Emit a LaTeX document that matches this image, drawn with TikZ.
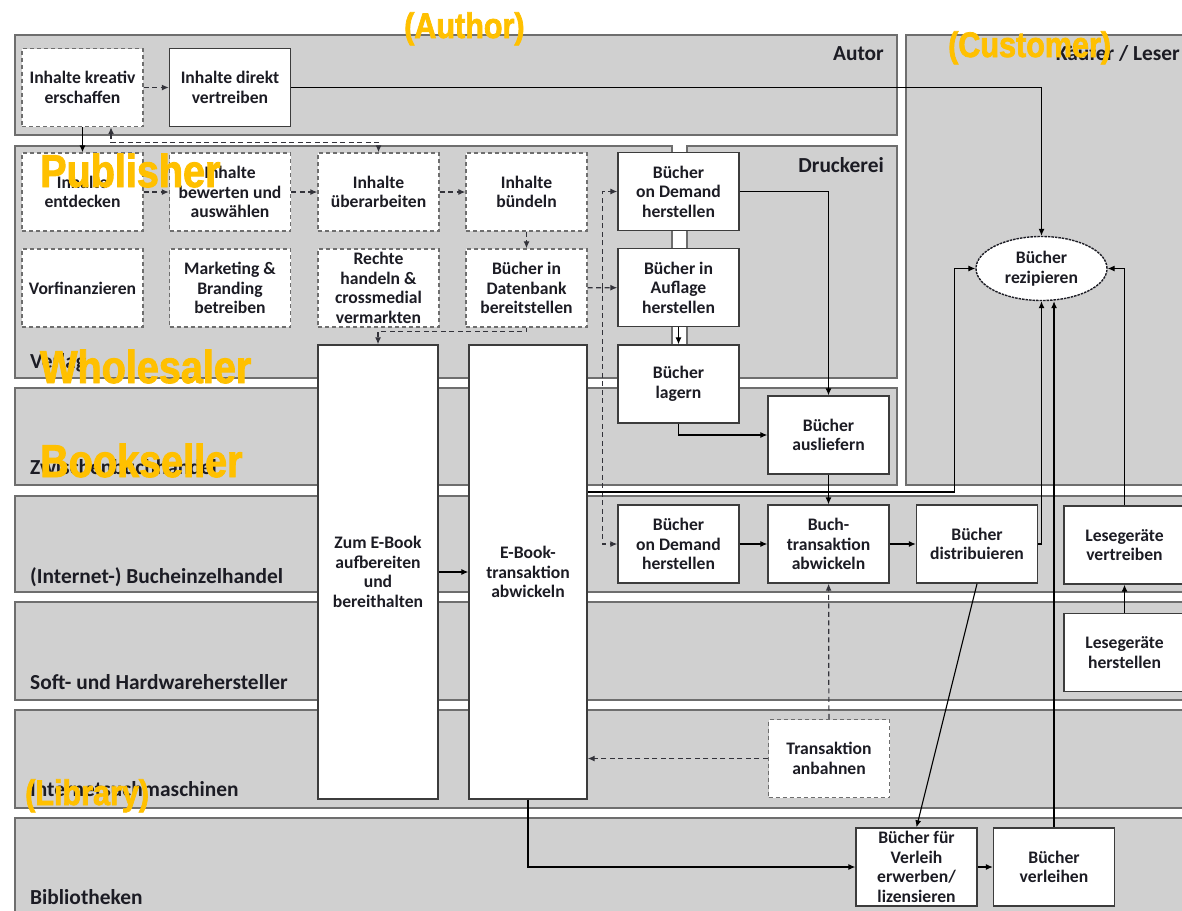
\documentclass[tikz,border=0pt]{standalone}
\usepackage{fontspec}
\setmainfont{Carlito}
\newfontfamily\rolefont[FakeStretch=0.86, FakeBold=2]{Liberation Sans Bold}
\usetikzlibrary{arrows.meta}
\usetikzlibrary{shapes.geometric}
\usetikzlibrary{calc}
\definecolor{lanefill}{HTML}{D0D0D0}
\definecolor{laneline}{HTML}{6E6E6E}
\definecolor{boxline}{HTML}{3C3C3C}
\definecolor{ink}{HTML}{1C1C24}
\definecolor{rolecolor}{HTML}{FFC000}
\newcommand{\lane}[4] % left, top, right, bottom (px)
{
	\draw[lane] (#1,#2) rectangle (#3,#4);
}
\newcommand{\lanelabel}[5] % name, x, baseline, anchor, text
{
	\node[lanetext, anchor=#4] (#1) at (#2,#3) {#5};
}
\newcommand{\roletag}[5] % name, x, baseline, size (px), text
{
	\node[roletext, font=\rolefont\fontsize{#4}{#4}\selectfont] (#1) at (#2,#3) {#5};
}

\begin{document}
\begin{tikzpicture}[x=1pt, y=-1pt, >={Latex[length=7pt, width=6pt]},
	lane/.style={fill=lanefill, draw=laneline, line width=2.5},
	lanetext/.style={inner sep=0, text=ink, font=\bfseries\fontsize{21.4}{23}\selectfont},
	box/.style={draw=boxline, fill=white, line width=1.4, minimum width=121, minimum height=78, inner sep=0, align=center, text=ink, font=\bfseries\fontsize{17.6}{19.5}\selectfont},
	ideabox/.style={box, draw=laneline, dash pattern=on 4pt off 3pt},
	readnode/.style={box, ellipse, draw=ink, dash pattern=on 2.5pt off 1pt, minimum width=131, minimum height=64},
	flow/.style={->, draw=black, line width=1.1},
	idea/.style={->, draw=ink!90, line width=1.2, dash pattern=on 5pt off 3.5pt},
	roletext/.style={anchor=base west, inner sep=0, text=rolecolor}]
	\useasboundingbox[fill=white] (0,0) rectangle (1182,910);

	% swim lanes
	\lane{15}{35}{897}{135}     % Autor
	\lane{906}{35}{1200}{485}   % Kaeufer / Leser
	\lane{15}{146}{672}{378}    % Verlag
	\lane{687}{146}{897}{378}   % Druckerei
	\lane{15}{388}{897}{485}    % Zwischenbuchhandel
	\lane{15}{496}{1200}{592}   % Bucheinzelhandel
	\lane{15}{602}{1200}{700}   % Soft- und Hardware
	\lane{15}{710}{1200}{808}   % Suchmaschinen
	\lane{15}{818}{1200}{925}   % Bibliotheken

	\lanelabel{lautor}{884}{60}{base east}{Autor}
	\lanelabel{lleser}{1180}{60}{base east}{Käufer / Leser}
	\lanelabel{ldruck}{884}{172}{base east}{Druckerei}
	\lanelabel{lverlag}{30}{368}{base west}{Verlag}
	\lanelabel{lzwischen}{30}{474}{base west}{Zwischenbuchhandel}
	\lanelabel{lhandel}{30}{583}{base west}{(Internet-) Bucheinzelhandel}
	\lanelabel{lsoft}{30}{689}{base west}{Soft- und Hardwarehersteller}
	\lanelabel{lsuche}{30}{796}{base west}{Internetsuchmaschinen}
	\lanelabel{lbib}{30}{904}{base west}{Bibliotheken}

	% Autor
	\node[ideabox] (kreativ) at (82.5,87.5) {Inhalte kreativ\\erschaffen};
	\node[box] (direkt) at (230,87.5) {Inhalte direkt\\vertreiben};
	% Verlag
	\node[ideabox] (entdecken) at (82.5,192) {Inhalte\\entdecken};
	\node[ideabox] (bewerten) at (230,192) {Inhalte\\bewerten und\\auswählen};
	\node[ideabox] (ueberarbeiten) at (378.5,192) {Inhalte\\überarbeiten};
	\node[ideabox] (buendeln) at (526.5,192) {Inhalte\\bündeln};
	\node[ideabox] (vorfinanzieren) at (82.5,288) {Vorfinanzieren};
	\node[ideabox] (marketing) at (230,288) {Marketing \&\\Branding\\betreiben};
	\node[ideabox] (rechte) at (378.5,288) {Rechte\\handeln \&\\crossmedial\\vermarkten};
	\node[ideabox] (datenbank) at (526.5,288) {Bücher in\\Datenbank\\bereitstellen};
	\node[box, minimum width=120, minimum height=454] (aufbereiten) at (378,572) {Zum E-Book\\aufbereiten\\und\\bereithalten};
	\node[box, minimum width=118, minimum height=454] (ebook) at (528,572) {E-Book-\\transaktion\\abwickeln};
	% Druckerei / Zwischenbuchhandel
	\node[box] (demanddruck) at (678.5,191.5) {Bücher\\on Demand\\herstellen};
	\node[box] (auflage) at (678.5,287.5) {Bücher in\\Auflage\\herstellen};
	\node[box] (lagern) at (678.5,384) {Bücher\\lagern};
	\node[box] (ausliefern) at (828.5,435) {Bücher\\ausliefern};
	% Bucheinzelhandel
	\node[box] (demandhandel) at (678.5,544) {Bücher\\on Demand\\herstellen};
	\node[box] (buchtrans) at (828.5,544) {Buch-\\transaktion\\abwickeln};
	\node[box] (distribuieren) at (977,544) {Bücher\\distribuieren};
	\node[box] (lesevertrieb) at (1124.5,545) {Lesegeräte\\vertreiben};
	% Hardware, Suchmaschinen, Bibliotheken
	\node[box] (leseherstellung) at (1124.5,652.5) {Lesegeräte\\herstellen};
	\node[ideabox] (anbahnen) at (829,758.5) {Transaktion\\anbahnen};
	\node[box] (erwerben) at (916.5,867) {Bücher für\\Verleih\\erwerben/\\lizensieren};
	\node[box] (verleihen) at (1054,867) {Bücher\\verleihen};
	% Leser
	\node[readnode] (rezipieren) at (1041.5,268.5) {Bücher\\rezipieren};

	% connectors
	\draw[idea] (kreativ) -- (direkt);
	\draw[flow] (direkt.east) -| (rezipieren.north);
	\draw[flow] (kreativ.south) -- (entdecken.north);
	\draw[idea, <->] ([xshift=28.5pt]kreativ.south) -- ++(0,15) -| (ueberarbeiten.north);
	\draw[idea] (entdecken) -- (bewerten);
	\draw[idea] (bewerten) -- (ueberarbeiten);
	\draw[idea] (ueberarbeiten) -- (buendeln);
	\draw[idea] (buendeln) -- (datenbank);
	\draw[idea] (datenbank.south) -- ++(0,4) -| (aufbereiten.north);
	\draw[idea] (datenbank) -- (auflage);
	\coordinate (druckweg) at ($(datenbank.east)!0.5!(auflage.west)$);
	\draw[idea] (druckweg) |- (demanddruck.west);
	\draw[idea] (druckweg) |- (demandhandel.west);

	\draw[flow] (auflage) -- (lagern);
	\draw[flow] (demanddruck.east) -| (ausliefern.north);
	\draw[flow] (lagern.south) |- (ausliefern.west);
	\draw[flow] (ausliefern) -- (buchtrans);

	\draw[flow] (demandhandel) -- (buchtrans);
	\draw[flow] (buchtrans) -- (distribuieren);
	\draw[flow] (distribuieren.east) -| (rezipieren.south);
	\draw[flow] (leseherstellung) -- (lesevertrieb);
	\draw[flow] (lesevertrieb.north) |- (rezipieren.east);
	\draw[flow] (aufbereiten) -- (ebook);
	\draw[flow] ([yshift=80pt]ebook.east) -- ++(367,0) |- (rezipieren.west);
	\draw[idea] (anbahnen) -- (buchtrans);
	\draw[idea] (anbahnen.west) -- (anbahnen.west -| ebook.east);
	\draw[flow] (distribuieren.south) -- (erwerben.north);

	\draw[flow] (ebook.south) |- (erwerben.west);
	\draw[flow] (erwerben) -- (verleihen);
	\draw[flow] (verleihen.north) -- (verleihen.north |- rezipieren.south);

	% english role tags on top
	\roletag{tauthor}{404}{38}{35.5}{(Author)}
	\roletag{tcustomer}{948}{57}{35.5}{(Customer)}
	\roletag{tpublisher}{40}{187}{46}{Publisher}
	\roletag{twholesaler}{40}{383}{46}{Wholesaler}
	\roletag{tbookseller}{40}{477}{46}{Bookseller}
	\roletag{tlibrary}{25}{805}{35.5}{(Library)}
\end{tikzpicture}
\end{document}
